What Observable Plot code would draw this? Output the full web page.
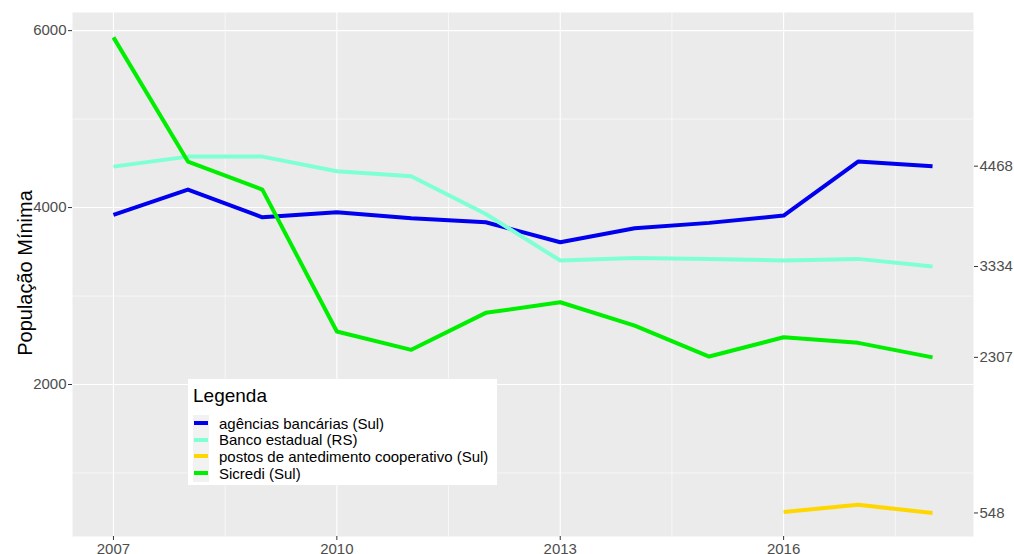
<!DOCTYPE html>
<html><head><meta charset="utf-8">
<script src="https://cdn.jsdelivr.net/npm/d3@7"></script>
<script src="https://cdn.jsdelivr.net/npm/@observablehq/plot@0.6"></script>
<style>
body{margin:0;background:#fff;font-family:"Liberation Sans",Arial,sans-serif;}
#wrap{position:relative;width:1014px;height:554px;overflow:hidden;}
#ytitle{position:absolute;left:25px;top:273px;transform:translate(-50%,-50%) rotate(-90deg);font-size:20px;color:#000;white-space:nowrap;}
#legend{position:absolute;left:188px;top:379px;width:309px;height:106px;background:#fff;}
#legend .title{position:absolute;left:5px;top:6px;font-size:19px;line-height:22px;color:#000;}
#legend .row{position:absolute;left:5px;height:17px;display:flex;align-items:center;font-size:15px;color:#000;white-space:nowrap;}
#legend .key{width:16px;height:17px;background:#f2f2f2;display:flex;align-items:center;justify-content:center;margin-right:10px;}
#legend .bar{width:14px;height:4px;}
</style></head><body><div id="wrap"></div>
<script>
const years = [2007,2008,2009,2010,2011,2012,2013,2014,2015,2016,2017,2018];
const agencias = [3917,4203,3890,3947,3879,3834,3608,3766,3827,3910,4520,4468];
const bancoEstadual = [4463,4576,4576,4410,4354,3928,3401,3431,3420,3401,3420,3334];
const postosYears = [2016,2017,2018];
const postos = [560,640,548];
const sicredi = [5924,4520,4203,2599,2392,2810,2930,2666,2316,2534,2471,2307];

const seriesNames = ["agências bancárias (Sul)","Banco estadual (RS)","postos de antedimento cooperativo (Sul)","Sicredi (Sul)"];
const seriesColors = ["#0000ee","#7fffd4","#ffd700","#00ee00"];

const leftTicks = [2000,4000,6000];
const leftMinor = [1000,3000,5000];
const rightTicks = [548,2307,3334,4468];
const xTicks = [2007,2010,2013,2016];
const xMinor = [2008.5,2011.5,2014.5,2017.5];

const rows = [];
years.forEach((yr,i)=>rows.push({year:yr,value:agencias[i],series:seriesNames[0]}));
years.forEach((yr,i)=>rows.push({year:yr,value:bancoEstadual[i],series:seriesNames[1]}));
postosYears.forEach((yr,i)=>rows.push({year:yr,value:postos[i],series:seriesNames[2]}));
years.forEach((yr,i)=>rows.push({year:yr,value:sicredi[i],series:seriesNames[3]}));

const fmt = d => String(d);
const chart = Plot.plot({
  width:1014, height:554,
  marginTop:12, marginBottom:18, marginLeft:72, marginRight:41,
  style:{fontFamily:'"Liberation Sans",Arial,sans-serif', fontSize:"15px", color:"#4d4d4d", background:"#fff"},
  x:{domain:[2006.45,2018.55]},
  y:{domain:[282,6205]},
  color:{domain:seriesNames, range:seriesColors},
  marks:[
    Plot.frame({fill:"#ebebeb", stroke:"none"}),
    Plot.ruleY(leftMinor,{stroke:"#fff", strokeWidth:0.6}),
    Plot.ruleX(xMinor,{stroke:"#fff", strokeWidth:0.6}),
    Plot.ruleY(leftTicks,{stroke:"#fff", strokeWidth:1.1}),
    Plot.ruleX(xTicks,{stroke:"#fff", strokeWidth:1.1}),
    Plot.line(rows,{x:"year", y:"value", z:"series", stroke:"series", strokeWidth:4, strokeLinejoin:"round", strokeLinecap:"butt"}),
    Plot.axisY(leftTicks,{anchor:"left", tickSize:4, tickPadding:2, label:null, stroke:"#333", fontSize:15, tickFormat:fmt}),
    Plot.axisY(rightTicks,{anchor:"right", tickSize:4, tickPadding:2, label:null, stroke:"#333", fontSize:15, tickFormat:fmt}),
    Plot.axisX(xTicks,{anchor:"bottom", tickSize:4, tickPadding:3, label:null, stroke:"#333", fontSize:15, tickFormat:fmt})
  ]
});
const wrap = document.getElementById("wrap");
wrap.appendChild(chart);

const yt = document.createElement("div");
yt.id = "ytitle"; yt.textContent = "População Mínima";
wrap.appendChild(yt);

const lg = document.createElement("div");
lg.id = "legend";
const t = document.createElement("div");
t.className = "title"; t.textContent = "Legenda";
lg.appendChild(t);
seriesNames.forEach((name,i)=>{
  const r = document.createElement("div");
  r.className = "row";
  r.style.top = (35.5 + 16.7*i) + "px";
  const k = document.createElement("div"); k.className = "key";
  const b = document.createElement("div"); b.className = "bar"; b.style.background = seriesColors[i];
  k.appendChild(b);
  const s = document.createElement("span"); s.textContent = name;
  r.appendChild(k); r.appendChild(s);
  lg.appendChild(r);
});
wrap.appendChild(lg);
</script>
</body></html>
